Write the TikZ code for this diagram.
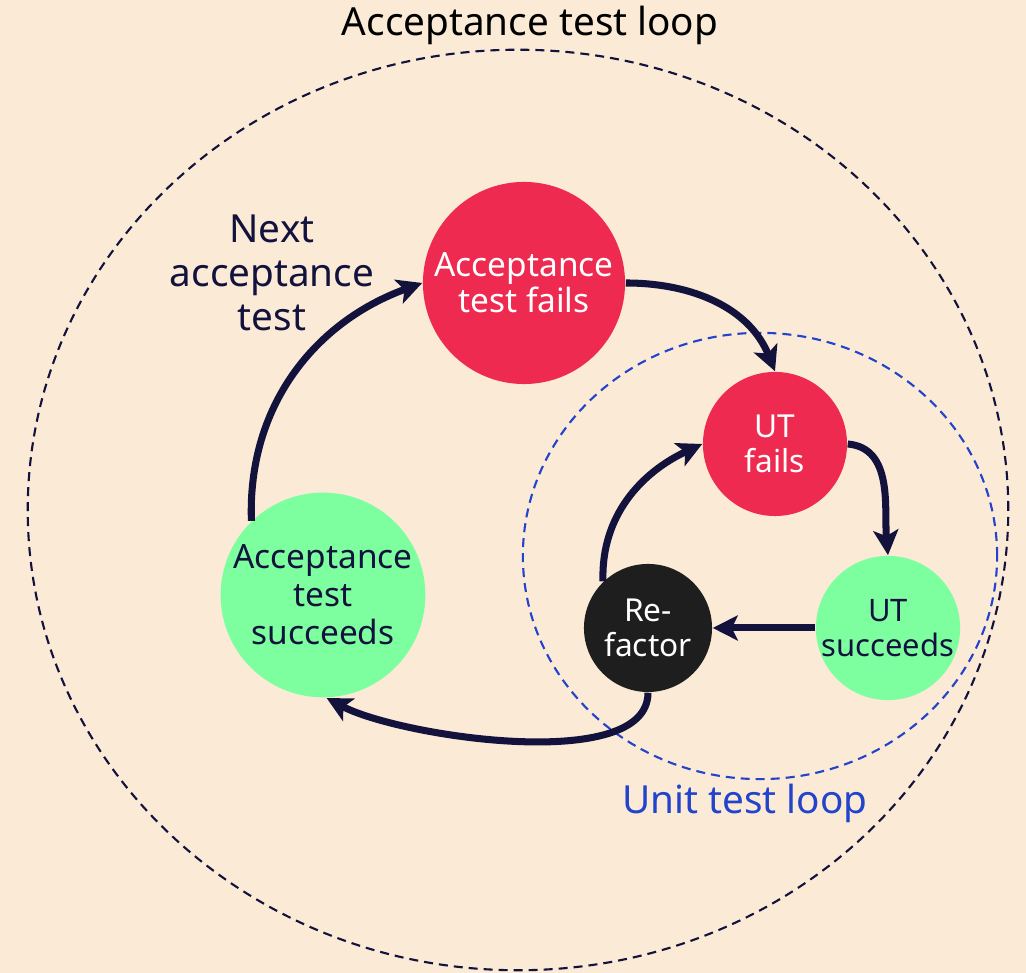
\documentclass[tikz,border=0pt]{standalone}
\usepackage{fontspec}
\setmainfont{Noto Sans}
\usetikzlibrary{arrows.meta, positioning, calc}

\definecolor{bgcream}{HTML}{FAEAD6}
\definecolor{failred}{HTML}{EE2A50}
\definecolor{passgreen}{HTML}{7DFF9F}
\definecolor{refblack}{HTML}{1E1E1E}
\definecolor{navy}{HTML}{12123D}
\definecolor{loopblue}{HTML}{2244CC}

\tikzset{
    stage/.style={circle, inner sep=0pt, align=center},
    flow/.style={navy, line width=2pt, -{Stealth[length=0.25cm, width=0.25cm, inset=0.06cm]}},
    loopline/.style={line width=0.6pt, dash pattern=on 0.09cm off 0.06cm}
}

\begin{document}
\begin{tikzpicture}[x=0.01cm, y=0.01cm]
    \fill[bgcream] (0,0) rectangle (1026,973);
    \useasboundingbox (0,0) rectangle (1026,973);

    % loops
    \draw[loopline, navy] (518,463) ellipse [x radius=4.9cm, y radius=4.6cm];
    \draw[loopline, loopblue] (760,417) ellipse [x radius=2.37cm, y radius=2.23cm];

    \node[black, font=\fontsize{11}{13}\selectfont] (outerlbl) at (530,948) {Acceptance test loop};
    \node[loopblue, font=\fontsize{11}{13}\selectfont] (innerlbl) at (745,170) {Unit test loop};
    \node[navy, align=center, font=\fontsize{11}{12.6}\selectfont] (nextlbl) at (272,700) {Next\\acceptance\\test};

    % stages
    \node[stage, fill=failred, text=white, minimum size=2.02cm,
          font=\fontsize{9.5}{10.3}\selectfont] (ATfail) at (524,690) {Acceptance\\test fails};
    \node[stage, fill=passgreen, text=navy, minimum size=2.03cm,
          font=\fontsize{9.5}{10.8}\selectfont] (ATpass) at (323,378) {Acceptance\\test\\succeeds};
    \node[stage, fill=failred, text=white, minimum size=1.44cm,
          font=\fontsize{9}{10}\selectfont] (UTfail) at (775,529) {UT\\fails};
    \node[stage, fill=passgreen, text=navy, minimum size=1.38cm,
          font=\fontsize{8.8}{10}\selectfont] (UTpass) at (888,345) {UT\\succeeds};
    \node[stage, fill=refblack, text=white, minimum size=1.28cm,
          font=\fontsize{9}{10}\selectfont] (refac) at (648,345) {Re-\\factor};

    % transitions
    \draw[flow] (ATpass.134) to[out=92, in=200] (ATfail.west);
    \draw[flow] (ATfail.east) to[out=0, in=112] (UTfail.north);
    \draw[flow] (UTfail.east) to[out=-5, in=95] (UTpass.north);
    \draw[flow] (UTpass.west) -- (refac.east);
    \draw[flow] (refac.134) to[out=92, in=205] (UTfail.west);
    \draw[flow] (refac.south) to[out=-90, in=-28, looseness=0.65] (ATpass.272);
\end{tikzpicture}
\end{document}
